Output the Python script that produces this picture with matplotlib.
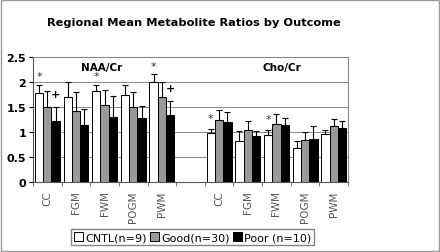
import numpy as np
import matplotlib.pyplot as plt

regions = ['CC', 'FGM', 'FWM', 'POGM', 'PWM', '', 'CC', 'FGM', 'FWM', 'POGM', 'PWM']

# NAA/Cr then gap then Cho/Cr
cntl = [1.78, 1.70, 1.81, 1.73, 2.00, np.nan, 0.98, 0.82, 0.93, 0.68, 0.95]
good = [1.50, 1.42, 1.54, 1.49, 1.70, np.nan, 1.24, 1.04, 1.16, 0.83, 1.12]
poor = [1.21, 1.14, 1.29, 1.28, 1.34, np.nan, 1.19, 0.91, 1.14, 0.86, 1.08]

cntl_err = [0.16, 0.29, 0.13, 0.21, 0.15, 0, 0.08, 0.19, 0.10, 0.13, 0.08]
good_err = [0.31, 0.37, 0.29, 0.30, 0.29, 0, 0.19, 0.17, 0.19, 0.16, 0.14]
poor_err = [0.28, 0.32, 0.42, 0.23, 0.27, 0, 0.20, 0.11, 0.13, 0.26, 0.14]

star_cntl = [0, 2, 4, 6, 8]
plus_poor = [0, 4]

fig = plt.figure(figsize=(4.4, 2.53), dpi=100)
fig.patches.append(plt.Rectangle((0.003, 0.005), 0.994, 0.99, transform=fig.transFigure,
                                 fill=False, edgecolor='#999999', lw=1))
ax = fig.add_axes([0.075, 0.277, 0.716, 0.494])

x = np.arange(len(regions))
w = 0.29
ek = dict(ecolor='black', elinewidth=0.8, capsize=2, capthick=0.8)
def up(e):
    return [np.zeros(len(e)), e]

ax.bar(x - w, cntl, w, color='white', edgecolor='black', lw=0.7, yerr=up(cntl_err), error_kw=ek, zorder=2)
ax.bar(x, good, w, color='#999999', edgecolor='black', lw=0.7, yerr=up(good_err), error_kw=ek, zorder=2)
ax.bar(x + w, poor, w, color='black', edgecolor='black', lw=0.7, yerr=up(poor_err), error_kw=ek, zorder=2)

for i in star_cntl:
    if i < 5:
        yy = cntl[i] + cntl_err[i] + 0.17
    else:
        yy = cntl[i] + cntl_err[i] + 0.22
    ax.text(x[i] - w, yy, '*', ha='center', va='center', fontsize=8, color='#333333')
for i in plus_poor:
    ax.text(x[i] + w, poor[i] + poor_err[i] + 0.26, '+', ha='center', va='center',
            fontsize=8, fontweight='bold')

ax.text(1.9, 2.3, 'NAA/Cr', ha='center', va='center', fontsize=7.5, fontweight='bold')
ax.text(8.2, 2.3, 'Cho/Cr', ha='center', va='center', fontsize=7.5, fontweight='bold')

ax.set_xlim(-0.5, len(regions) - 0.5)
ax.set_ylim(0, 2.5)
ax.set_yticks([0, 0.5, 1, 1.5, 2, 2.5])
ax.set_yticklabels(['0', '0.5', '1', '1.5', '2', '2.5'], fontsize=8, fontweight='bold')
ax.yaxis.grid(True, color='#888888', lw=0.7, zorder=0)
ax.set_axisbelow(True)
ax.set_xticks(x)
ax.set_xticklabels(regions, rotation=90, fontsize=7.5, color='#555555', family='Liberation Sans Narrow')
ax.set_xticks(np.arange(-0.5, len(regions)), minor=True)
ax.tick_params(axis='x', which='major', length=0, pad=6)
ax.tick_params(axis='x', which='minor', length=3, color='#666666')
ax.tick_params(axis='y', length=3, pad=2)
for s in ax.spines.values():
    s.set_color('#888888')
    s.set_linewidth(0.8)
ax.spines['left'].set_color('#555555')
ax.spines['bottom'].set_color('#555555')

handles = [plt.Rectangle((0, 0), 1, 1, fc=c, ec='black', lw=0.7) for c in ['white', '#999999', 'black']]
fig.legend(handles, ['CNTL(n=9)', 'Good(n=30)', 'Poor (n=10)'], loc='center',
           bbox_to_anchor=(0.438, 0.058), ncol=3, fontsize=8, frameon=True, fancybox=False,
           edgecolor='#666666', handlelength=0.8, handleheight=0.8, handletextpad=0.2,
           columnspacing=0.3, borderpad=0.25)

fig.suptitle('Regional Mean Metabolite Ratios by Outcome', x=0.44, y=0.91, va='center',
             fontsize=8.2, fontweight='bold')

fig.savefig('out.png', dpi=100)
